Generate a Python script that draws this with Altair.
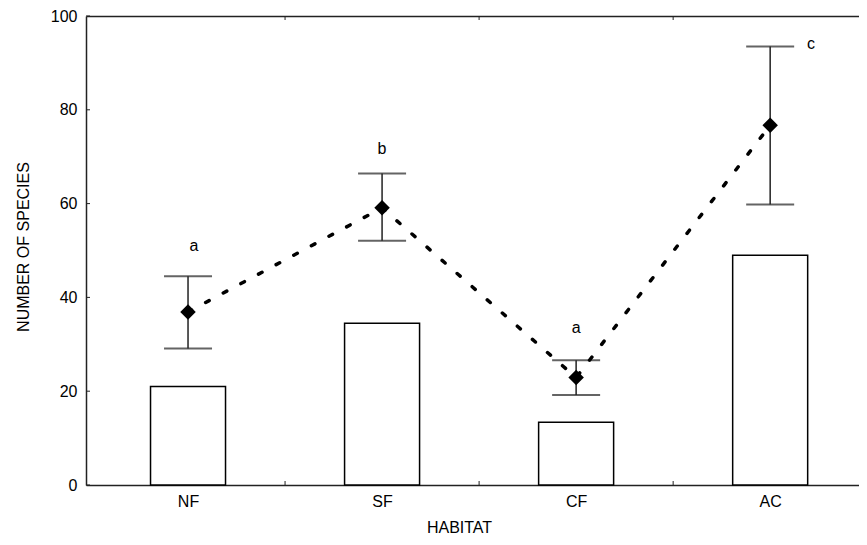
import altair as alt
import pandas as pd

# ---- data ----
habitat = ["NF", "SF", "CF", "AC"]
xpos = [0, 1, 2, 3]
bar_values = [21.0, 34.5, 13.4, 49.0]
means = [36.9, 59.1, 22.9, 76.7]
err_hi = [44.5, 66.4, 26.6, 93.5]
err_lo = [29.1, 52.1, 19.2, 59.8]
letters = ["a", "b", "a", "c"]
letter_x = [0.03, 1.0, 2.0, 3.21]
letter_y = [51.0, 71.7, 33.5, 94.1]
y_ticks = [0, 20, 40, 60, 80, 100]
x_boundaries = [0.5, 1.5, 2.5]

W, H = 773, 469
FONT = "Liberation Sans"
AX = "#222222"

df = pd.DataFrame({"habitat": habitat, "x": xpos, "bar": bar_values,
                   "mean": means, "hi": err_hi, "lo": err_lo})
lab = pd.DataFrame({"letter": letters, "lx": letter_x, "ly": letter_y})
ydf = pd.DataFrame({"t": y_ticks})
xdf = pd.DataFrame({"b": x_boundaries})

xscale = alt.Scale(domain=[-0.5, 3.432], nice=False, zero=False)
yscale = alt.Scale(domain=[0, 100], nice=False)

yaxis = alt.Axis(title="NUMBER OF SPECIES", values=y_ticks, ticks=False, tickSize=0,
                 labelPadding=9, grid=False, domain=True, domainColor=AX, domainWidth=1.5,
                 labelFont=FONT, labelFontSize=16, labelColor="black",
                 titleFont=FONT, titleFontSize=16, titleFontWeight="normal", titleColor="black",
                 titleAngle=270, titleX=-58, titleY=230.5, titleBaseline="alphabetic",
                 titleAlign="center")

label_expr = "[" + ",".join("'%s'" % h for h in habitat) + "][datum.value]"
xaxis_bottom = alt.Axis(orient="bottom", title="HABITAT", values=xpos, labelExpr=label_expr,
                        ticks=False, tickSize=0, labelPadding=8, grid=False, domain=True,
                        domainColor=AX, domainWidth=1.5, labelFont=FONT, labelFontSize=16,
                        labelColor="black", titleFont=FONT, titleFontSize=16,
                        titleFontWeight="normal", titleColor="black", titleX=373, titleY=47,
                        titleBaseline="alphabetic", titleAlign="center")
xaxis_top = alt.Axis(orient="top", title="", labels=False, ticks=False, tickSize=0, grid=False,
                     domain=True, domainColor=AX, domainWidth=1.5)

base = alt.Chart(df)

bars = base.mark_bar(size=75, fill="white", stroke="black", strokeWidth=1.5).encode(
    x=alt.X("x:Q", scale=xscale, axis=xaxis_bottom),
    y=alt.Y("bar:Q", scale=yscale, axis=yaxis),
)

err = base.mark_rule(color=AX, strokeWidth=1.5).encode(
    x=alt.X("x:Q", scale=xscale, axis=xaxis_top),
    y=alt.Y("lo:Q", scale=yscale, axis=yaxis),
    y2="hi:Q",
)

cap_hi = base.mark_tick(orient="horizontal", size=48, thickness=2, color=AX).encode(
    x=alt.X("x:Q", scale=xscale, axis=None),
    y=alt.Y("hi:Q", scale=yscale, axis=yaxis),
)
cap_lo = base.mark_tick(orient="horizontal", size=48, thickness=2, color=AX).encode(
    x=alt.X("x:Q", scale=xscale, axis=None),
    y=alt.Y("lo:Q", scale=yscale, axis=yaxis),
)

line = base.mark_line(color="black", strokeWidth=3.5, strokeDash=[4, 16], strokeCap="round").encode(
    x=alt.X("x:Q", scale=xscale, axis=None),
    y=alt.Y("mean:Q", scale=yscale, axis=yaxis),
)

pts = base.mark_point(shape="diamond", filled=True, size=240, color="black", opacity=1).encode(
    x=alt.X("x:Q", scale=xscale, axis=None),
    y=alt.Y("mean:Q", scale=yscale, axis=yaxis),
)

txt = alt.Chart(lab).mark_text(font=FONT, fontSize=16, color="black", baseline="middle",
                               align="center").encode(
    x=alt.X("lx:Q", scale=xscale, axis=None),
    y=alt.Y("ly:Q", scale=yscale, axis=yaxis),
    text="letter:N",
)

yt = alt.Chart(ydf).mark_rule(color=AX, strokeWidth=1).encode(
    y=alt.Y("t:Q", scale=yscale, axis=yaxis),
    x=alt.value(0), x2=alt.value(4),
)

bt = alt.Chart(xdf).mark_rule(color=AX, strokeWidth=1).encode(
    x=alt.X("b:Q", scale=xscale, axis=None),
    y=alt.value(H), y2=alt.value(H - 4),
)
tt = alt.Chart(xdf).mark_rule(color=AX, strokeWidth=1).encode(
    x=alt.X("b:Q", scale=xscale, axis=None),
    y=alt.value(0), y2=alt.value(4),
)

chart = alt.layer(bars, err, cap_hi, cap_lo, line, pts, txt, yt, bt, tt).resolve_axis(
    x="independent"
).properties(
    width=W, height=H,
    autosize=alt.AutoSizeParams(type="none"),
    padding={"left": 78, "top": 8, "right": 0, "bottom": 52},
    background="white",
).configure_view(strokeWidth=0)

chart.save("out.html", embed_options={"renderer": "svg", "actions": False})
